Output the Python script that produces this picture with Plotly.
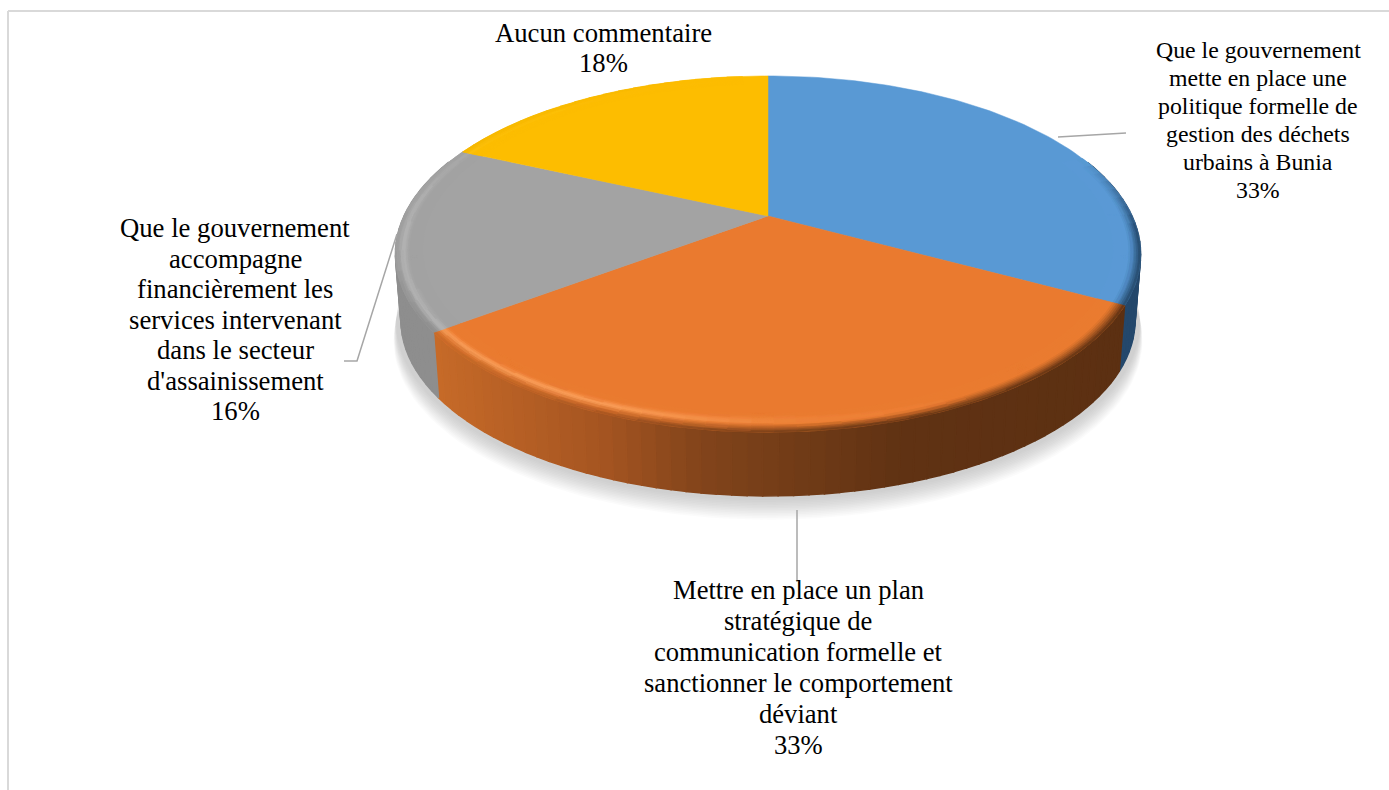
import numpy as np
import plotly.graph_objects as go

categories = [
    "Que le gouvernement met en place une politique formelle",
    "Mettre en place un plan stratégique",
    "Que le gouvernement accompagne financièrement",
    "Aucun commentaire",
]
values = [33, 33, 16, 18]
top_colors = [(89, 153, 212), (234, 122, 47), (163, 163, 163), (253, 189, 0)]
glow_colors = [(150, 195, 235), (255, 168, 100), (190, 190, 190), (255, 215, 80)]
wall_blue = (36, 72, 108)
wall_gray = (142, 142, 142)
label_lines = [
    ["Que le gouvernement", "mette en place une", "politique formelle de", "gestion des déchets", "urbains à Bunia", "33%"],
    ["Mettre en place un plan", "stratégique de", "communication formelle et", "sanctionner le comportement", "déviant", "33%"],
    ["Que le gouvernement", "accompagne", "financièrement les", "services intervenant", "dans le secteur", "d'assainissement", "16%"],
    ["Aucun commentaire", "18%"],
]
label_centers = [(1258, 50, 28.0, 23.8), (798, 590, 31.0, 26.6), (235, 228, 30.5, 26.7), (603, 33, 30.0, 26.7)]
leaders = [
    ([1058, 1118, 1126], [137, 133, 133]),
    ([797, 797], [510, 582]),
    ([397, 357, 344], [234, 361, 361]),
]

CX, CY, A, B, K = 768.0, 216.0, 170.0, 364.0, 0.2135
DEPTH, WALL_SCALE = 67.0, 0.985
# the drawn pie's perspective slightly shifts where slice edges land on the rim
WARP_AT = [0, 118.8, 237.6, 295.2, 360]
WARP_BY = [0, -0.5, -4.3, -1.0, 0]


def project(theta_deg, r=1.0, drop=0.0, scale=1.0):
    t = np.radians(theta_deg + np.interp(theta_deg, WARP_AT, WARP_BY))
    u, v = r * np.sin(t), r * np.cos(t)
    d = 1 + K * v
    return CX + scale * B * u / d, CY + drop - scale * A * v / d


def rgb(c):
    c = [int(round(min(255, max(0, x)))) for x in c]
    return f"rgb({c[0]},{c[1]},{c[2]})"


def poly(x, y, color, width=0.6):
    return go.Scatter(x=x, y=y, mode="lines", fill="toself", fillcolor=color,
                      line=dict(color=color, width=width), hoverinfo="skip", showlegend=False)


def add_grouped(groups, width):
    for color, (xs, ys) in groups.items():
        fig.add_trace(poly(xs, ys, color, width))


fig = go.Figure()
edges = np.concatenate([[0], np.cumsum(values)]) / sum(values) * 360.0

# soft shadow under the pie
full = np.linspace(0, 360, 181)
for grow in np.arange(26, 0, -2.0):
    sx, sy = project(full, drop=DEPTH + grow * 0.75, scale=WALL_SCALE + 0.012 + grow * 0.0003)
    fig.add_trace(poly(sx, sy, "rgba(130,130,130,0.03)", 0))

# side wall
wall_x = [395, 440, 600, 700, 768, 900, 1130]
wall_orange = [[205, 112, 44], [197, 105, 40], [165, 85, 33], [130, 68, 27], [118, 62, 24], [96, 50, 19], [92, 48, 18]]


def wall_colour(i, t):
    x = project(np.array([t]))[0][0]
    if i == 1:
        return [np.interp(x, wall_x, [c[j] for c in wall_orange]) for j in range(3)]
    if i == 0:
        return wall_blue
    if i == 2:
        return wall_gray
    return (170, 128, 0)


for i in range(4):
    th = np.linspace(edges[i], edges[i + 1], max(2, int((edges[i + 1] - edges[i]) / 2)) + 1)
    for t0, t1 in zip(th[:-1], th[1:]):
        if np.cos(np.radians((t0 + t1) / 2)) > 0.35:
            continue
        x0, y0 = project(np.array([t0, t1]))
        x1, y1 = project(np.array([t1, t0]), drop=DEPTH, scale=WALL_SCALE)
        fig.add_trace(poly(np.r_[x0, x1, x0[0]], np.r_[y0, y1, y0[0]], rgb(wall_colour(i, (t0 + t1) / 2)), 1.5))

# top faces
for i in range(4):
    th = np.linspace(edges[i], edges[i + 1], 100)
    x, y = project(th)
    fig.add_trace(go.Scatter(
        x=np.r_[CX, x, CX], y=np.r_[CY, y, CY], mode="lines", fill="toself",
        fillcolor=rgb(top_colors[i]), line=dict(color=rgb(top_colors[i]), width=0.5),
        name=categories[i], text=f"{values[i]}%", hoverinfo="name+text", showlegend=False))


# bevel along the rim: highlight band plus a blur into the wall colour
def highlight(t):
    return float(np.interp(t, [0, 150, 180, 205, 240, 270, 300, 360],
                           [0, 0, 0.20, 0.75, 0.85, 0.60, 0.10, 0]))


def edge_blur(t):
    return float(np.interp(t, [0, 70, 95, 240, 265, 360], [0, 0, 1, 1, 0.15, 0]))


radii = np.linspace(0.93, 1.0, 15)
groups = {}
for i in range(4):
    th = np.r_[np.arange(edges[i], edges[i + 1], 3.0), edges[i + 1]]
    for t0, t1 in zip(th[:-1], th[1:]):
        tm = (t0 + t1) / 2
        hi, bl = highlight(tm), edge_blur(tm)
        if hi < 0.01 and bl < 0.01:
            continue
        side = abs(np.sin(np.radians(tm)))
        peak = 0.958 + 0.022 * side
        sigma = 0.014 - 0.006 * side
        wall = np.array(wall_colour(i, tm), float)
        base = np.array(top_colors[i], float)
        glow = np.array(glow_colors[i], float)
        for r0, r1 in zip(radii[:-1], radii[1:]):
            r = (r0 + r1) / 2
            h = hi * np.exp(-((r - peak) / sigma) ** 2)
            e = bl * np.clip((r - 0.968) / 0.032, 0, 1) ** 1.3
            col = base * (1 - h) + glow * h
            col = col * (1 - e) + wall * e
            col = np.round(col / 3) * 3
            xa, ya = project(np.array([t0, t1]), r=r0)
            xb, yb = project(np.array([t1, t0]), r=r1)
            g = groups.setdefault(rgb(col), ([], []))
            g[0].extend(list(np.r_[xa, xb, xa[0]]) + [None])
            g[1].extend(list(np.r_[ya, yb, ya[0]]) + [None])
add_grouped(groups, 0.8)

# leader lines
for lx, ly in leaders:
    fig.add_trace(go.Scatter(x=lx, y=ly, mode="lines", line=dict(color="#a6a6a6", width=1.5),
                             hoverinfo="skip", showlegend=False))

# chart frame
frame = dict(type="line", xref="x", yref="y", line=dict(color="#d9d9d9", width=2))
shapes = [dict(frame, x0=8, y0=11, x1=1389, y1=11), dict(frame, x0=8, y0=11, x1=8, y1=790)]

annotations = []
for lines, (cx, y0, step, size) in zip(label_lines, label_centers):
    for j, line in enumerate(lines):
        annotations.append(dict(x=cx, y=y0 + j * step, text=line, showarrow=False, xanchor="center",
                                yanchor="middle", font=dict(family="Liberation Serif", size=size, color="#000000")))

fig.update_layout(
    width=1389, height=790, margin=dict(l=0, r=0, t=0, b=0),
    paper_bgcolor="white", plot_bgcolor="white", showlegend=False,
    xaxis=dict(range=[0, 1389], visible=False, fixedrange=True),
    yaxis=dict(range=[790, 0], visible=False, fixedrange=True),
    shapes=shapes, annotations=annotations,
)
fig.write_html("out.html", config={"displayModeBar": False},
               post_script="document.body.style.margin='0';document.body.style.overflow='hidden';")
